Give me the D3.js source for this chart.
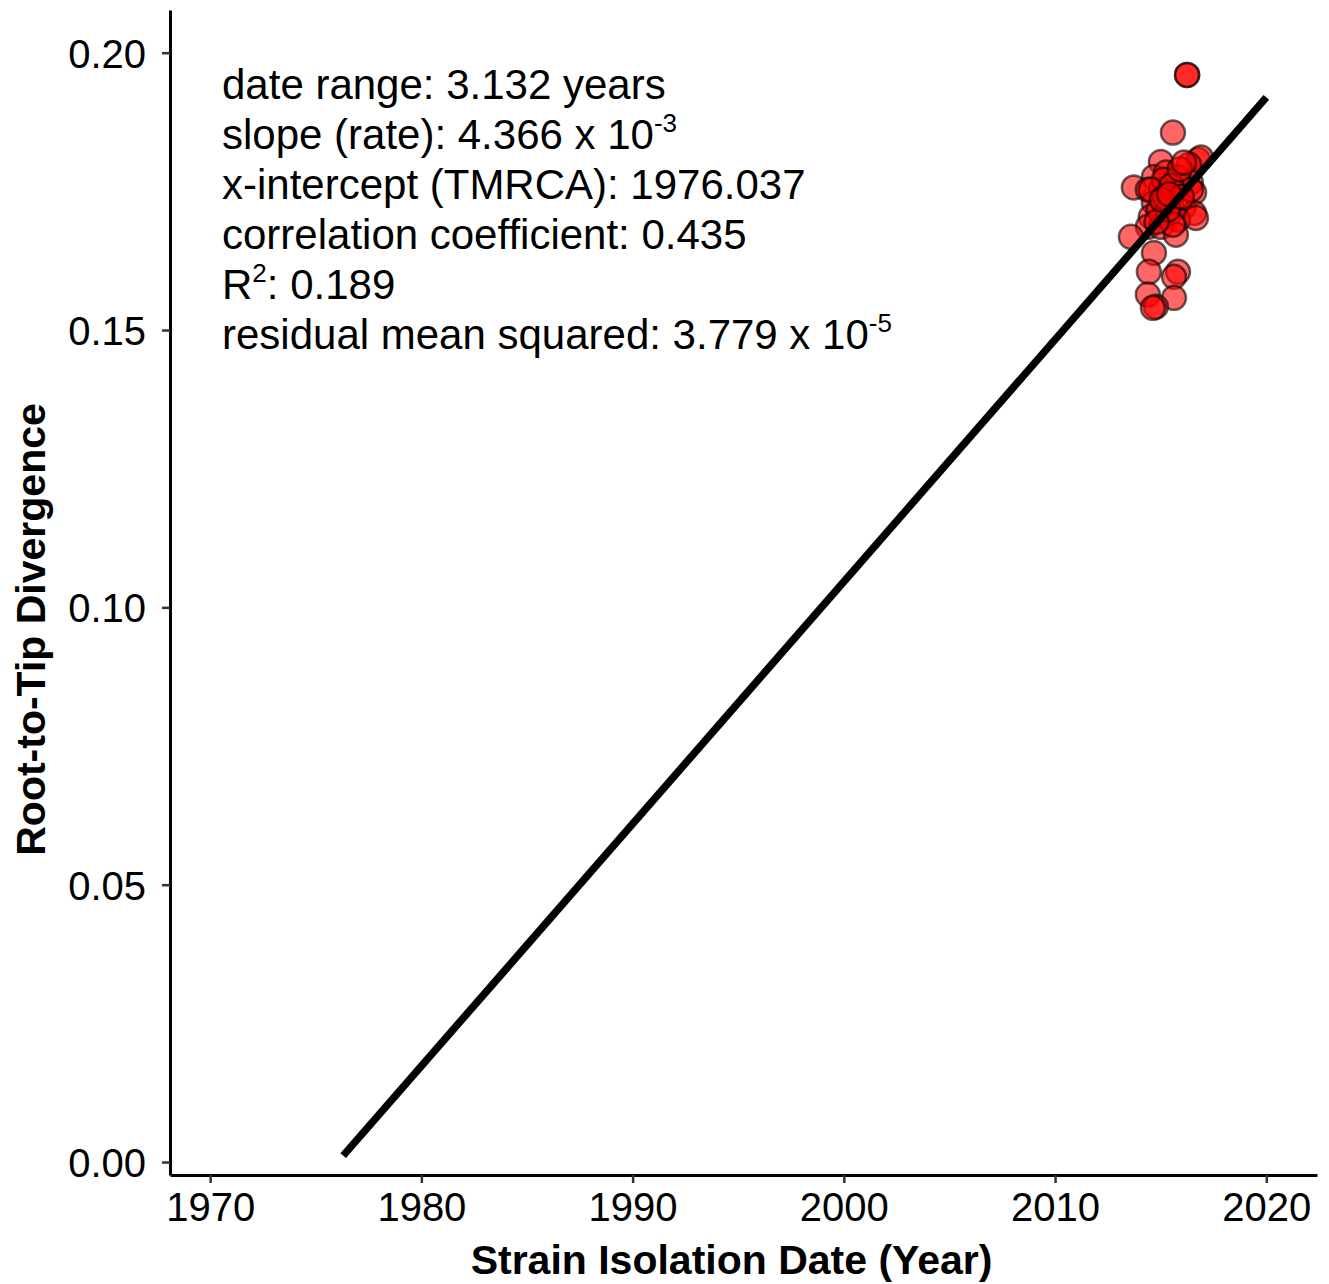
<!DOCTYPE html>
<html>
<head>
<meta charset="utf-8">
<script src="https://cdn.jsdelivr.net/npm/d3@7"></script>
<style>
  body { margin: 0; background: #fff; }
  svg text { font-family: "Liberation Sans", Arial, Helvetica, sans-serif; }
</style>
</head>
<body>
<div id="chart"></div>
<script>
// root-to-tip regression
const years = [2016.25, 2016.25, 2015.58, 2015.01, 2016.77, 2016.91, 2016.34, 2013.73, 2014.68, 2015.25,
  2015.82, 2016.43, 2014.39, 2015.01, 2015.72, 2016.58, 2014.68, 2015.48, 2016.10, 2014.53,
  2015.34, 2016.58, 2015.82, 2014.39, 2015.01, 2015.72, 2013.59, 2016.67, 2014.68, 2014.44,
  2015.82, 2015.63, 2014.39, 2015.63, 2014.77, 2014.63, 2015.15, 2015.58, 2016.43, 2014.90,
  2015.34, 2014.53, 2015.20, 2015.50, 2014.80, 2016.00, 2015.90, 2016.10, 2015.05, 2015.40];
const divergence = [0.1960, 0.1960, 0.1856, 0.1803, 0.1807, 0.1811, 0.1798, 0.1757, 0.1776, 0.1784,
  0.1775, 0.1766, 0.1753, 0.1753, 0.1748, 0.1748, 0.1729, 0.1729, 0.1722, 0.1704,
  0.1704, 0.1711, 0.1699, 0.1686, 0.1686, 0.1672, 0.1668, 0.1702, 0.1639, 0.1605,
  0.1605, 0.1596, 0.1564, 0.1558, 0.1542, 0.1540, 0.1771, 0.1690, 0.1753, 0.1717,
  0.1717, 0.1753, 0.1740, 0.1760, 0.1695, 0.1740, 0.1790, 0.1802, 0.1735, 0.1745];

const slope = 4.366e-3;
const xIntercept = 1976.037;
const lineYears = [1976.3, 2020];

const xTicks = [1970, 1980, 1990, 2000, 2010, 2020];
const yTicks = [0.00, 0.05, 0.10, 0.15, 0.20];

const statLines = [
  ["date range: 3.132 years"],
  ["slope (rate): 4.366 x 10", "-3"],
  ["x-intercept (TMRCA): 1976.037"],
  ["correlation coefficient: 0.435"],
  ["R", "2", ": 0.189"],
  ["residual mean squared: 3.779 x 10", "-5"]
];

const width = 1329, height = 1284;
const plotLeft = 170, plotRight = 1317, plotTop = 10, plotBottom = 1175;

const svg = d3.select("#chart").append("svg")
  .attr("width", width)
  .attr("height", height);

const x = d3.scaleLinear().domain([1968.1, 2022.4]).range([plotLeft, plotRight]);
const y = d3.scaleLinear().domain([-0.00234, 0.2077]).range([plotBottom, plotTop]);

// axes
const xAxis = svg.append("g")
  .attr("transform", `translate(0,${plotBottom})`)
  .call(d3.axisBottom(x).tickValues(xTicks).tickFormat(d3.format("d")).tickSize(8).tickSizeOuter(0).tickPadding(10));
const yAxis = svg.append("g")
  .attr("transform", `translate(${plotLeft},0)`)
  .call(d3.axisLeft(y).tickValues(yTicks).tickFormat(d3.format(".2f")).tickSize(8).tickSizeOuter(0).tickPadding(16));

[xAxis, yAxis].forEach(a => {
  a.select(".domain").attr("stroke", "#000").attr("stroke-width", 3);
  a.selectAll(".tick line").attr("stroke", "#333").attr("stroke-width", 2.5);
  a.selectAll(".tick text").attr("fill", "#000").attr("font-size", 40);
});
xAxis.selectAll(".tick text").attr("dy", "0.71em");
yAxis.selectAll(".tick text").attr("dy", "0.36em");

// points
svg.append("g").selectAll("circle")
  .data(years.map((d, i) => [d, divergence[i]]))
  .join("circle")
  .attr("cx", d => x(d[0]))
  .attr("cy", d => y(d[1]))
  .attr("r", 12)
  .attr("fill", "rgba(255,0,0,0.6)")
  .attr("stroke", "rgba(0,0,0,0.6)")
  .attr("stroke-width", 2.5);

// regression line
svg.append("line")
  .attr("x1", x(lineYears[0])).attr("y1", y(slope * (lineYears[0] - xIntercept)))
  .attr("x2", x(lineYears[1])).attr("y2", y(slope * (lineYears[1] - xIntercept)))
  .attr("stroke", "#000")
  .attr("stroke-width", 7.5);

// stats text
const stats = svg.append("g").attr("font-size", 42).attr("fill", "#000");
statLines.forEach((parts, i) => {
  const t = stats.append("text").attr("x", 222).attr("y", 99 + i * 50);
  parts.forEach((p, j) => {
    const sup = j === 1;
    t.append("tspan")
      .attr("font-size", sup ? 26 : 42)
      .attr("dy", sup ? -17 : (j === 2 ? 17 : 0))
      .text(p);
  });
});

// axis titles
svg.append("text")
  .attr("x", (plotLeft + plotRight) / 2 - 12)
  .attr("y", 1274)
  .attr("text-anchor", "middle")
  .attr("font-size", 41)
  .attr("font-weight", "bold")
  .text("Strain Isolation Date (Year)");

svg.append("text")
  .attr("transform", `translate(45,${(plotTop + plotBottom) / 2 + 37}) rotate(-90)`)
  .attr("text-anchor", "middle")
  .attr("font-size", 41)
  .attr("font-weight", "bold")
  .text("Root-to-Tip Divergence");
</script>
</body>
</html>
